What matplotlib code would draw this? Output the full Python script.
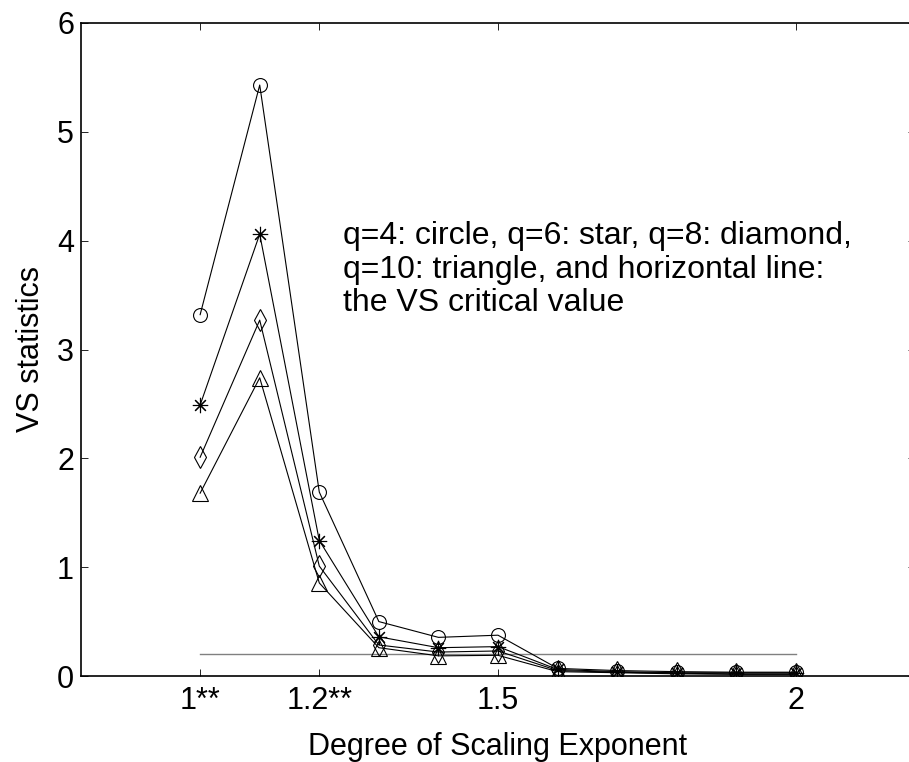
import matplotlib
matplotlib.use("Agg")
import matplotlib.pyplot as plt

plt.rcParams['font.family'] = ['Liberation Sans', 'DejaVu Sans']

# scaling exponent
exponent = [1.0, 1.1, 1.2, 1.3, 1.4, 1.5, 1.6, 1.7, 1.8, 1.9, 2.0]

# VS statistics for each q
vs_q4 = [3.32, 5.43, 1.69, 0.50, 0.355, 0.375, 0.07, 0.05, 0.04, 0.035, 0.035]
vs_q6 = [2.49, 4.06, 1.245, 0.36, 0.26, 0.27, 0.06, 0.04, 0.03, 0.03, 0.03]
vs_q8 = [2.01, 3.27, 1.01, 0.285, 0.22, 0.23, 0.05, 0.035, 0.025, 0.02, 0.02]
vs_q10 = [1.68, 2.74, 0.855, 0.26, 0.185, 0.19, 0.04, 0.03, 0.02, 0.015, 0.015]

critical_x = [1.0, 2.0]
critical_y = [0.2, 0.2]

tick_pos = [1.0, 1.2, 1.5, 2.0]
tick_lab = ['1**', '1.2**', '1.5', '2']

fig = plt.figure(figsize=(9.09, 7.62), dpi=100)
ax = fig.add_axes([81/909, 1 - 676/762, 834/909, (676 - 23)/762])

ax.plot(critical_x, critical_y, color='#808080', lw=1.0)

style = dict(color='black', lw=0.8, mfc='none', mec='black', mew=0.8)
ax.plot(exponent, vs_q4, marker='o', ms=10, **style)
ax.plot(exponent, vs_q6, marker=(8, 2, 0), ms=11, **style)
ax.plot(exponent, vs_q8, marker='d', ms=11, **style)
ax.plot(exponent, vs_q10, marker='^', ms=11, **style)

ax.set_xlim(0.8, 2.2)
ax.set_ylim(0, 6)
ax.set_xticks(tick_pos)
ax.set_xticklabels(tick_lab)
ax.set_yticks(range(7))
ax.tick_params(direction='in', length=5, width=0.6, labelsize=22, top=True, right=True)
ax.tick_params(axis='x', pad=7)
ax.tick_params(axis='y', pad=5)
for s in ax.spines.values():
    s.set_linewidth(1.2)

ax.set_xlabel('Degree of Scaling Exponent', fontsize=22, labelpad=12)
ax.set_ylabel('VS statistics', fontsize=22, labelpad=8)

ax.text(1.24, 4.18, 'q=4: circle, q=6: star, q=8: diamond,\n'
        'q=10: triangle, and horizontal line:\n'
        'the VS critical value',
        fontsize=23, va='top', ha='left', linespacing=1.15)

fig.savefig('out.png', dpi=100)
